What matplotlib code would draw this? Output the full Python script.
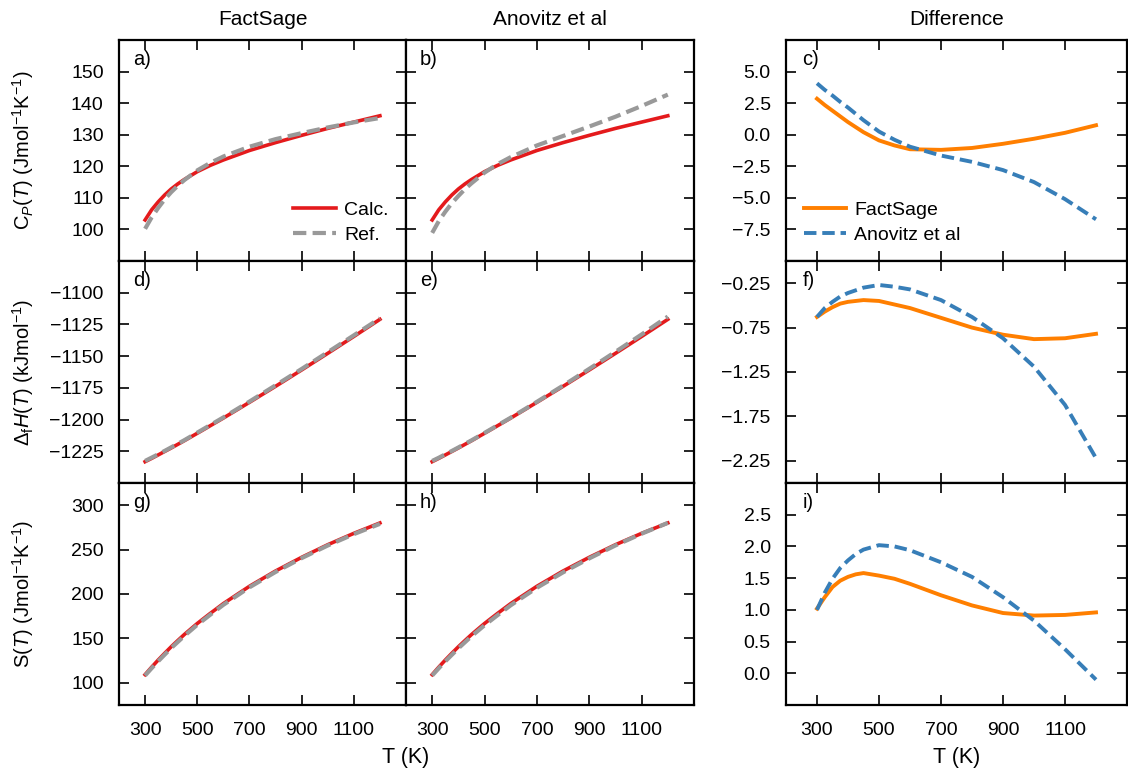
import numpy as np
import matplotlib
matplotlib.use("Agg")
import matplotlib.pyplot as plt

plt.rcParams['font.family'] = ['Liberation Sans', 'DejaVu Sans']
plt.rcParams['mathtext.fontset'] = 'custom'
plt.rcParams['mathtext.rm'] = 'Liberation Sans'
plt.rcParams['mathtext.it'] = 'Liberation Sans:italic'
plt.rcParams['mathtext.bf'] = 'Liberation Sans:bold'

# temperature grid (K)
temps = [300, 325, 350, 375, 400, 425, 450, 500, 550, 600, 700, 800, 900, 1000, 1100, 1200]

# heat capacity (J/mol/K)
cp_calc = [103.0, 106.2, 108.7, 110.9, 112.8, 114.4, 115.8, 118.3, 120.3, 122.0, 125.0, 127.5, 129.8, 132.0, 134.0, 136.0]
cp_ref_fs = [100.2, 103.8, 106.8, 109.5, 111.8, 113.8, 115.6, 118.7, 121.1, 123.1, 126.2, 128.6, 130.5, 132.3, 133.9, 135.3]
cp_ref_an = [98.9, 102.6, 105.6, 108.3, 110.6, 112.75, 114.6, 118.0, 120.7, 122.9, 126.6, 129.6, 132.6, 135.7, 139.1, 142.7]
cp_diff_fs = [2.85, 2.35, 1.9, 1.45, 1.0, 0.6, 0.2, -0.45, -0.85, -1.15, -1.2, -1.05, -0.72, -0.32, 0.15, 0.75]
cp_diff_an = [4.07, 3.55, 3.1, 2.6, 2.15, 1.65, 1.15, 0.25, -0.4, -0.95, -1.65, -2.15, -2.8, -3.75, -5.1, -6.7]

# enthalpy of formation (kJ/mol)
h_calc = [-1233.2, -1230.6, -1227.9, -1225.15, -1222.4, -1219.56, -1216.7, -1210.8, -1204.83, -1198.8, -1186.4, -1173.8, -1160.9, -1147.8, -1134.5, -1121.0]
h_ref_fs = [-1232.6, -1230.0, -1227.4, -1224.7, -1221.9, -1219.1, -1216.3, -1210.3, -1204.3, -1198.3, -1185.8, -1173.0, -1160.1, -1146.9, -1133.6, -1120.2]
h_ref_an = [-1232.6, -1230.1, -1227.4, -1224.75, -1222.0, -1219.2, -1216.4, -1210.5, -1204.5, -1198.5, -1186.0, -1173.2, -1160.0, -1146.6, -1132.9, -1118.8]
h_diff_fs = [-0.63, -0.57, -0.52, -0.48, -0.46, -0.45, -0.44, -0.45, -0.49, -0.53, -0.64, -0.75, -0.83, -0.88, -0.87, -0.82]
h_diff_an = [-0.63, -0.53, -0.46, -0.40, -0.36, -0.33, -0.30, -0.27, -0.29, -0.32, -0.44, -0.63, -0.87, -1.19, -1.62, -2.22]

# entropy (J/mol/K)
s_calc = [109.2, 117.6, 125.6, 133.2, 140.6, 147.5, 154.3, 166.8, 178.2, 189.2, 208.7, 225.9, 241.3, 255.5, 268.3, 280.0]
s_ref_fs = [108.2, 116.4, 124.2, 131.7, 139.1, 145.9, 152.7, 165.3, 176.7, 187.8, 207.5, 224.8, 240.4, 254.6, 267.4, 279.0]
s_ref_an = [108.2, 116.3, 124.1, 131.5, 138.8, 145.6, 152.4, 164.8, 176.2, 187.3, 207.0, 224.4, 240.1, 254.7, 267.9, 280.1]
s_diff_fs = [1.02, 1.2, 1.36, 1.46, 1.52, 1.56, 1.58, 1.54, 1.49, 1.41, 1.23, 1.07, 0.95, 0.91, 0.92, 0.96]
s_diff_an = [1.0, 1.27, 1.49, 1.66, 1.78, 1.88, 1.95, 2.02, 2.0, 1.94, 1.75, 1.52, 1.2, 0.83, 0.38, -0.1]

col_titles = ["FactSage", "Anovitz et al", "Difference"]
ylabels = [r'$\mathrm{C}_P(T)$ (Jmol$^{-1}$K$^{-1}$)',
           r'$\Delta_\mathrm{f}H(T)$ (kJmol$^{-1}$)',
           r'$\mathrm{S}(T)$ (Jmol$^{-1}$K$^{-1}$)']
panel_tags = [["a)", "b)", "c)"], ["d)", "e)", "f)"], ["g)", "h)", "i)"]]

RED = '#e41a1c'
GRAY = '#999999'
ORANGE = '#ff7f00'
BLUE = '#377eb8'

W, H = 1128, 771
fig = plt.figure(figsize=(W / 100, H / 100), dpi=100)

def px_axes(x0, y0, x1, y1):
    return fig.add_axes([x0 / W, 1 - y1 / H, (x1 - x0) / W, (y1 - y0) / H])

col_x = [(119, 406), (406, 694), (786, 1127)]
row_y = [(40, 261), (261, 483), (483, 705)]

rows = [
    (cp_calc, cp_ref_fs, cp_ref_an, cp_diff_fs, cp_diff_an, (90, 160), np.arange(100, 151, 10), (-10, 7.5), np.arange(-7.5, 5.1, 2.5)),
    (h_calc, h_ref_fs, h_ref_an, h_diff_fs, h_diff_an, (-1250, -1075), np.arange(-1225, -1099, 25), (-2.5, 0.0), np.arange(-2.25, -0.24, 0.5)),
    (s_calc, s_ref_fs, s_ref_an, s_diff_fs, s_diff_an, (75, 325), np.arange(100, 301, 50), (-0.5, 3.0), np.arange(0.0, 2.51, 0.5)),
]

for r, (calc, ref_fs, ref_an, d_fs, d_an, ylim, yt, dlim, dyt) in enumerate(rows):
    y0, y1 = row_y[r]
    axes = [px_axes(col_x[c][0], y0, col_x[c][1], y1) for c in range(3)]
    for c, ax in enumerate(axes):
        if c < 2:
            ref = ref_fs if c == 0 else ref_an
            ax.plot(temps, calc, color=RED, lw=2.6, label='Calc.', zorder=2)
            ax.plot(temps, ref, color=GRAY, lw=3.0, ls=(0, (3.2, 1.5)), label='Ref.', zorder=3)
            ax.set_ylim(*ylim)
            ax.set_yticks(yt)
            if c == 1:
                ax.tick_params(labelleft=False)
        else:
            ax.plot(temps, d_fs, color=ORANGE, lw=2.8, label='FactSage')
            ax.plot(temps, d_an, color=BLUE, lw=2.8, ls=(0, (3.2, 1.5)), label='Anovitz et al')
            ax.set_ylim(*dlim)
            ax.set_yticks(dyt)
        ax.set_xlim(200, 1300)
        ax.set_xticks([300, 500, 700, 900, 1100])
        ax.tick_params(direction='in', length=7, width=1.2, top=True, right=True,
                       labelsize=14)
        ax.tick_params(axis='y', pad=11)
        ax.tick_params(axis='x', pad=12)
        if r < 2:
            ax.tick_params(labelbottom=False)
        for sp in ax.spines.values():
            sp.set_linewidth(1.6)
        ax.text(0.048, 0.955, panel_tags[r][c], transform=ax.transAxes,
                ha='left', va='top', fontsize=14.5)
        if r == 0:
            ax.set_title(col_titles[c], fontsize=15, pad=11)
        if r == 0 and c == 0:
            ax.legend(loc='lower right', frameon=False, fontsize=14,
                      handlelength=2.2, handletextpad=0.4, labelspacing=0.35,
                      borderaxespad=0.5)
        if r == 0 and c == 2:
            ax.legend(loc='lower left', frameon=False, fontsize=14,
                      handlelength=2.2, handletextpad=0.4, labelspacing=0.35,
                      borderaxespad=0.5)
    axes[0].set_ylabel(ylabels[r], fontsize=14.5)
    axes[0].yaxis.set_label_coords(-0.29, 0.5)

fig.text(406 / W, 1 - 757 / H, 'T (K)', ha='center', va='center', fontsize=15.5)
fig.text(957 / W, 1 - 757 / H, 'T (K)', ha='center', va='center', fontsize=15.5)

fig.savefig('out.png', dpi=100)
